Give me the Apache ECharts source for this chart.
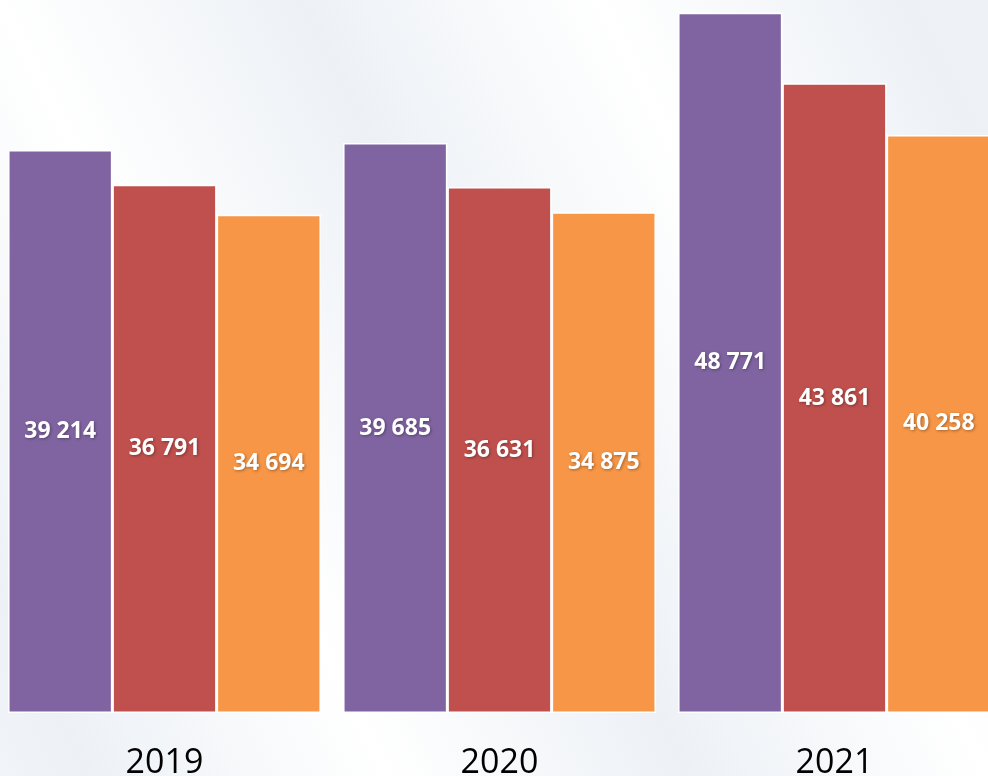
<!DOCTYPE html>
<html>
<head>
<meta charset="utf-8">
<style>
  html, body { margin: 0; padding: 0; }
  #chart { width: 988px; height: 776px; }
</style>
<script src="https://cdn.jsdelivr.net/npm/echarts@6/dist/echarts.min.js"></script>
</head>
<body>
<div id="chart"></div>
<script>
// Yearly values for three series
const years = ['2019', '2020', '2021'];
const seriesA = [39214, 39685, 48771];
const seriesB = [36791, 36631, 43861];
const seriesC = [34694, 34875, 40258];
const seriesColors = ['#8064A2', '#C0504D', '#F79646'];

// "39 214" style thousands grouping
function fmt(v) {
  return String(v).replace(/\B(?=(\d{3})+(?!\d))/g, ' ');
}

const chart = echarts.init(document.getElementById('chart'));

function barSeries(data, color) {
  return {
    type: 'bar',
    data: data,
    barGap: '0%',
    barCategoryGap: '6.6%',
    itemStyle: { color: color, borderColor: '#ffffff', borderWidth: 1.5 },
    label: {
      show: true,
      position: 'inside',
      color: '#ffffff',
      fontFamily: 'Open Sans',
      fontWeight: 'bold',
      fontSize: 23,
      textShadowColor: 'rgba(0,0,0,0.35)',
      textShadowBlur: 3,
      textShadowOffsetX: 1,
      textShadowOffsetY: 1,
      formatter: p => fmt(p.value)
    }
  };
}

chart.setOption({
  animation: false,
  backgroundColor: {
    type: 'linear',
    x: 0, y: 776, x2: 1100.8, y2: 225.6,
    global: true,
    colorStops: [
      { offset: 0.00, color: '#f1f4f8' },
      { offset: 0.064, color: '#edf1f6' },
      { offset: 0.282, color: '#ffffff' },
      { offset: 0.50, color: '#edf1f6' },
      { offset: 0.718, color: '#ffffff' },
      { offset: 0.936, color: '#edf1f6' },
      { offset: 1.00, color: '#eef2f7' }
    ]
  },
  grid: { left: -3, width: 1005, top: -5, bottom: 63, outerBoundsMode: 'none', containLabel: false },
  xAxis: {
    type: 'category',
    data: years,
    axisLine: { show: false },
    axisTick: { show: false },
    axisLabel: {
      color: '#000000',
      fontFamily: 'Open Sans',
      fontSize: 34,
      lineHeight: 34,
      margin: 33
    }
  },
  yAxis: {
    type: 'value',
    min: 0,
    max: 50000,
    show: false,
    splitLine: { show: false }
  },
  series: [
    barSeries(seriesA, seriesColors[0]),
    barSeries(seriesB, seriesColors[1]),
    barSeries(seriesC, seriesColors[2])
  ]
});
</script>
</body>
</html>
